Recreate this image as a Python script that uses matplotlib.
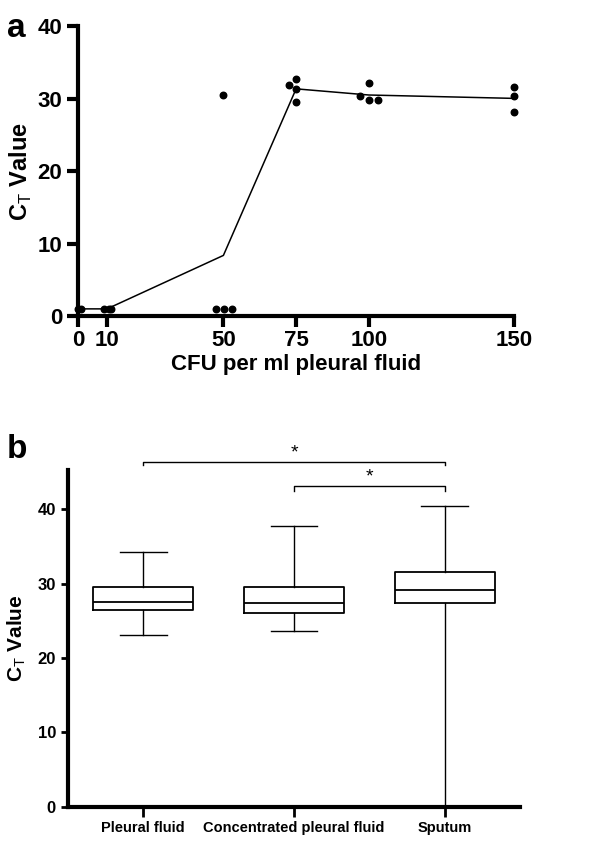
import numpy as np
import matplotlib
matplotlib.use("Agg")
import matplotlib.pyplot as plt

plt.rcParams['font.family'] = ['Liberation Sans', 'DejaVu Sans']
plt.rcParams['mathtext.fontset'] = 'custom'
plt.rcParams['mathtext.rm'] = 'Liberation Sans'
plt.rcParams['mathtext.bf'] = 'Liberation Sans:bold'

# panel a: CFU per ml vs Ct (jittered dots, line through means)
cfu_levels = [0, 10, 50, 75, 100, 150]
dot_x = [0, 1.2, 9, 10.5, 11.5,
         50, 47.6, 50.3, 53,
         72.5, 75, 75, 75,
         97, 100, 100, 103,
         150, 150, 150]
dot_y = [1, 1, 1, 1, 1,
         30.5, 1, 1, 1,
         31.9, 32.7, 31.3, 29.5,
         30.3, 32.1, 29.8, 29.8,
         31.6, 30.3, 28.2]
dot_group = [0, 0, 1, 1, 1,
             2, 2, 2, 2,
             3, 3, 3, 3,
             4, 4, 4, 4,
             5, 5, 5]

# panel b: box plot stats
groups = ['Pleural fluid', 'Concentrated pleural fluid', 'Sputum']
whislo = [23.1, 23.6, 0.0]
q1 = [26.4, 26.1, 27.4]
med = [27.6, 27.4, 29.2]
q3 = [29.5, 29.5, 31.6]
whishi = [34.3, 37.7, 40.5]

fig = plt.figure(figsize=(6, 8.43), dpi=100)

# ---- panel a ----
ax1 = fig.add_axes([0.13, 0.625, 0.727, 0.344])
ax1.scatter(dot_x, dot_y, s=22, color='black', zorder=3, clip_on=False)
means = [np.mean([y for y, g in zip(dot_y, dot_group) if g == i]) for i in range(len(cfu_levels))]
ax1.plot(cfu_levels, means, color='black', lw=1.1, clip_on=False)
ax1.set_xlim(0, 150)
ax1.set_ylim(0, 40)
ax1.set_xticks(cfu_levels)
ax1.set_yticks([0, 10, 20, 30, 40])
for s in ['top', 'right']:
    ax1.spines[s].set_visible(False)
for s in ['left', 'bottom']:
    ax1.spines[s].set_linewidth(3)
ax1.tick_params(width=3, length=8, labelsize=16)
ax1.tick_params(axis='x', pad=2)
for lab in ax1.get_xticklabels() + ax1.get_yticklabels():
    lab.set_fontweight('bold')
ax1.set_xlabel('CFU per ml pleural fluid', fontsize=16, fontweight='bold', labelpad=2)
ax1.set_ylabel(r'C$_{\mathrm{T}}$ Value', fontsize=17, fontweight='bold', labelpad=2)
fig.text(0.012, 0.985, 'a', fontsize=24, fontweight='bold', va='top')

# ---- panel b ----
ax2 = fig.add_axes([0.113, 0.043, 0.754, 0.3995])
stats = []
for i, g in enumerate(groups):
    stats.append(dict(label=g, whislo=whislo[i], q1=q1[i], med=med[i],
                      q3=q3[i], whishi=whishi[i], fliers=[]))
ax2.bxp(stats, positions=[1, 2, 3], widths=0.667, showfliers=False,
        boxprops=dict(color='black', lw=1.3),
        medianprops=dict(color='black', lw=1.3),
        whiskerprops=dict(color='black', lw=1.0),
        capprops=dict(color='black', lw=1.0),
        capwidths=0.31)
ax2.set_xlim(0.5, 3.5)
ax2.set_ylim(0, 45.3)
ax2.set_yticks([0, 10, 20, 30, 40])
for s in ['top', 'right']:
    ax2.spines[s].set_visible(False)
for s in ['left', 'bottom']:
    ax2.spines[s].set_linewidth(3)
ax2.tick_params(axis='y', width=2, length=5, labelsize=12)
ax2.tick_params(axis='x', width=2, length=7, labelsize=10.5)
for lab in ax2.get_xticklabels() + ax2.get_yticklabels():
    lab.set_fontweight('bold')
ax2.set_ylabel(r'C$_{\mathrm{T}}$ Value', fontsize=15, fontweight='bold', labelpad=7)

# significance brackets
brackets = [(1, 3, 46.4, 46.0), (2, 3, 43.1, 42.5)]
for x0, x1, yb, yt in brackets:
    ax2.plot([x0, x0, x1, x1], [yt, yb, yb, yt], color='black', lw=1.0, clip_on=False)
    ax2.text((x0 + x1) / 2, yb + 0.1, '*', ha='center', va='bottom', fontsize=14, clip_on=False)
fig.text(0.012, 0.485, 'b', fontsize=24, fontweight='bold', va='top')

fig.savefig('out.png', dpi=100)
